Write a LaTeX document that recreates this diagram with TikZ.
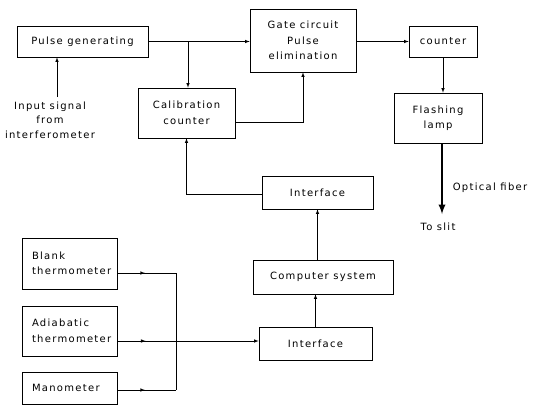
\documentclass[tikz,border=0pt]{standalone}
\usepackage{fontspec}
\setmainfont{DejaVu Sans}[LetterSpace=13]
\usetikzlibrary{positioning,calc,decorations.markings}
\begin{document}
\begin{tikzpicture}[>=latex, x=1pt, y=-1pt, font=\fontsize{10}{15.5}\selectfont]
% --- Layout & Styles --------------------------------------
\tikzstyle{block}=[draw, line width=0.6pt, align=center, inner sep=2pt];
\tikzstyle{left block}=[block, align=left, text width=75pt, inner sep=10pt];
\tikzstyle{wire}=[line width=0.6pt];
\tikzstyle{mid arrow}=[wire, decoration={markings, mark=at position #1 with {\arrow{>}}}, postaction=decorate];
\tikzstyle{fiber}=[line width=2.2pt, -{latex}];
\useasboundingbox (0,0) rectangle (538,405);
% --- Blocks -----------------------------------------------
\node (pulse) [block, minimum width=131pt, minimum height=31pt] at (82.5,41.5) {Pulse generating};
\node (gate) [block, minimum width=106pt, minimum height=63pt] at (303,40.5) {Gate circuit\\Pulse\\elimination};
\node (count) [block, minimum width=68pt, minimum height=31pt] at (443,41.5) {counter};
\node (calib) [block, minimum width=97pt, minimum height=50pt] at (186.5,113) {Calibration\\counter};
\node (lamp) [block, minimum width=88pt, minimum height=50pt] at (438,118) {Flashing\\lamp};
\node (ifup) [block, minimum width=111pt, minimum height=33pt] at (317.5,192.5) {Interface};
\node (comp) [block, minimum width=140pt, minimum height=34pt] at (323,277) {Computer system};
\node (iflow) [block, minimum width=113pt, minimum height=33pt] at (315.5,343.5) {Interface};
\node (blank) [left block, minimum height=51pt] at (69.5,263.5) {Blank\\thermometer};
\node (adiab) [left block, minimum height=50pt] at (69.5,331) {Adiabatic\\thermometer};
\node (mano) [left block, minimum height=32pt] at (69.5,388) {Manometer};
% --- Free labels ------------------------------------------
\node (inp) [align=center] at (50,120) {Input signal\\[-1pt]from\\[-1pt]interferometer};
\node (optic) at (490,188) {Optical fiber};
\node (slit) at (438,227) {To slit};
\coordinate (inptop) at (57,97);
\coordinate (split) at (188,41.5);
\coordinate (fibend) at (442,214);
\coordinate (jb) at (176,273);
\coordinate (jm) at (176,390);

% --- Edges ------------------------------------------------
\draw [wire, ->] (pulse.east) -- (pulse.east -| gate.west);
\draw [wire, ->] (split) -- (split |- calib.north);
\draw [wire, ->] (inptop) -- (inptop |- pulse.south);
\draw [wire, ->] ([yshift=-9pt]calib.east) -| (gate.south);
\draw [wire, ->] (gate.east |- count.west) -- (count.west);
\draw [wire, ->] (count.south) -- (count.south |- lamp.north);
\draw [fiber] (lamp.south -| fibend) -- (fibend);
\draw [wire, ->] ([yshift=-1.5pt]ifup.west) -| (calib.south);
\draw [wire, ->] (comp.north -| ifup.south) -- (ifup.south);
\draw [wire, ->] (iflow.north) -- (iflow.north |- comp.south);
\draw [mid arrow=0.47] ([yshift=-9.5pt]blank.east) -- (jb);
\draw [wire] (jb) -- (jm);
\draw [mid arrow=0.47] (mano.east |- jm) -- (jm);
\draw [mid arrow=0.2, ->] ([yshift=-10pt]adiab.east) -- ([yshift=-10pt]adiab.east -| iflow.west);
\end{tikzpicture}
\end{document}
